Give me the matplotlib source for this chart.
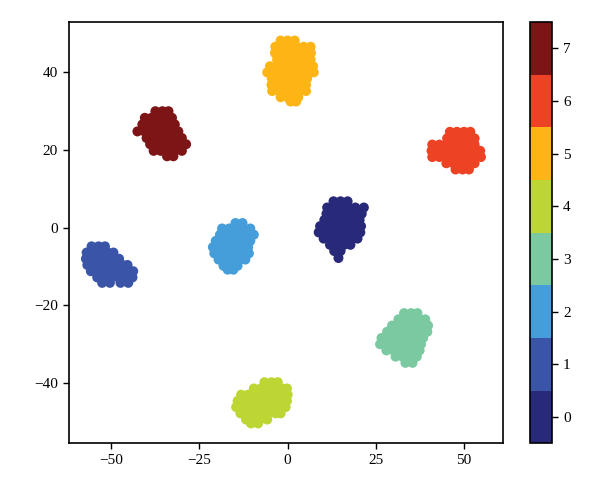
import numpy as np
import matplotlib
matplotlib.use("Agg")
import matplotlib.pyplot as plt
from matplotlib.colors import ListedColormap, BoundaryNorm

plt.rcParams['font.family'] = ['Liberation Serif', 'DejaVu Serif']

# t-SNE embedding, one cluster per class label
# each row: (y, [x values on that row])
cluster0 = [(6.8, [13.0, 15.0, 17.0]),
            (5.2, [11.2, 13.2, 15.2, 17.2, 19.2, 21.6]),
            (3.6, [11.0, 13.0, 15.0, 17.0, 19.0, 21.0]),
            (2.0, [10.4, 12.4, 14.4, 16.4, 18.4, 20.4]),
            (0.4, [9.2, 11.2, 13.2, 15.2, 17.2, 19.2, 20.8]),
            (-1.2, [8.8, 10.8, 12.8, 14.8, 16.8, 18.8, 20.6]),
            (-2.8, [10.2, 12.2, 14.2, 16.2, 18.2, 19.8]),
            (-4.4, [12.0, 14.0, 16.0, 17.8]),
            (-6.0, [13.2, 15.0]),
            (-7.8, [14.4])]
cluster1 = [(-4.8, [-55.6, -53.6, -51.8]),
            (-6.4, [-57.0, -55.0, -53.0, -51.0, -49.4]),
            (-8.0, [-57.2, -55.2, -53.2, -51.2, -49.2, -47.8]),
            (-9.6, [-56.8, -54.8, -52.8, -50.8, -48.8, -46.8, -45.4]),
            (-11.2, [-55.8, -53.8, -51.8, -49.8, -47.8, -45.8, -43.8]),
            (-12.8, [-54.0, -52.0, -50.0, -48.0, -46.0, -44.0]),
            (-14.2, [-52.6, -50.4, -47.4, -45.2])]
cluster2 = [(1.2, [-14.8, -12.8]),
            (-0.2, [-18.6, -16.6, -14.6, -12.6, -10.6]),
            (-1.8, [-19.2, -17.2, -15.2, -13.2, -11.2, -9.6]),
            (-3.4, [-20.4, -18.4, -16.4, -14.4, -12.4, -10.6]),
            (-5.0, [-21.2, -19.2, -17.2, -15.2, -13.2, -11.2]),
            (-6.6, [-20.8, -18.8, -16.8, -14.8, -12.8, -11.0]),
            (-8.2, [-19.6, -17.6, -15.6, -13.6, -12.0]),
            (-9.8, [-18.2, -16.2, -14.2]),
            (-10.8, [-17.0, -15.4])]
cluster3 = [(-22.0, [33.0, 35.0, 36.8]),
            (-23.6, [31.4, 33.4, 35.4, 37.4, 39.0]),
            (-25.2, [29.6, 31.6, 33.6, 35.6, 37.6, 39.8]),
            (-26.8, [28.2, 30.2, 32.2, 34.2, 36.2, 38.2, 39.6]),
            (-28.4, [26.6, 28.6, 30.6, 32.6, 34.6, 36.6, 38.4]),
            (-30.0, [26.2, 28.2, 30.2, 32.2, 34.2, 36.2, 37.8]),
            (-31.6, [28.0, 30.0, 32.0, 34.0, 36.0, 37.4]),
            (-33.2, [30.6, 32.6, 34.6, 36.6]),
            (-34.8, [33.4, 35.4])]
cluster4 = [(-39.8, [-6.6, -4.6, -2.8]),
            (-41.4, [-9.6, -7.6, -5.6, -3.6, -1.6, -0.2]),
            (-43.0, [-13.2, -11.2, -9.2, -7.2, -5.2, -3.2, -1.2, 0.0]),
            (-44.6, [-14.2, -12.2, -10.2, -8.2, -6.2, -4.2, -2.2, -0.2]),
            (-46.2, [-14.6, -12.6, -10.6, -8.6, -6.6, -4.6, -2.6, -0.6]),
            (-47.8, [-13.4, -11.4, -9.4, -7.4, -5.4, -3.4, -2.0]),
            (-49.4, [-11.8, -9.8, -7.8, -5.8]),
            (-50.4, [-10.4, -8.4])]
cluster5 = [(48.2, [-2.0, 0.0, 2.0]),
            (46.6, [-3.5, -1.5, 0.5, 2.5, 4.5, 6.5]),
            (45.0, [-3.6, -1.6, 0.4, 2.4, 4.4, 6.6]),
            (43.3, [-3.0, -1.0, 1.0, 3.0, 5.0, 6.5]),
            (41.6, [-5.0, -3.0, -1.0, 1.0, 3.0, 5.0, 7.2]),
            (40.0, [-5.8, -3.8, -1.8, 0.2, 2.2, 4.2, 6.2, 7.4]),
            (38.4, [-4.5, -2.5, -0.5, 1.5, 3.5, 5.5]),
            (36.8, [-4.6, -2.6, -0.6, 1.4, 3.4, 5.2]),
            (35.2, [-4.4, -2.4, -0.4, 1.6, 3.6, 5.2]),
            (33.6, [-2.0, 0.0, 2.0, 3.0]),
            (32.5, [0.8, 2.4])]
cluster6 = [(24.7, [46.0, 48.0, 50.0, 51.8]),
            (23.0, [45.2, 47.2, 49.2, 51.2, 53.0]),
            (21.4, [41.0, 43.0, 45.0, 47.0, 49.0, 51.0, 53.0]),
            (19.8, [40.8, 42.8, 44.8, 46.8, 48.8, 50.8, 52.8, 54.6]),
            (18.2, [41.0, 43.0, 45.0, 47.0, 49.0, 51.0, 53.0, 54.8]),
            (16.6, [45.0, 47.0, 49.0, 51.0, 53.0]),
            (15.0, [47.6, 49.6, 51.4])]
cluster7 = [(30.0, [-37.5, -35.5, -33.8]),
            (28.3, [-40.5, -38.6, -36.7, -34.8, -32.8]),
            (26.6, [-41.2, -39.3, -37.4, -35.5, -33.6, -32.0]),
            (24.8, [-42.6, -40.6, -38.6, -36.6, -34.6, -32.6, -31.0]),
            (23.1, [-40.0, -38.0, -36.0, -34.0, -32.0, -30.0]),
            (21.5, [-39.0, -37.0, -35.0, -33.0, -31.0, -28.8]),
            (19.8, [-38.0, -36.0, -34.0, -32.0, -30.0]),
            (18.4, [-34.2, -32.4])]

clusters = [cluster0, cluster1, cluster2, cluster3, cluster4, cluster5, cluster6, cluster7]
class_colors = ['#29297a', '#3a55a8', '#459dd9', '#7ac9a1', '#bdd633',
                '#fdb515', '#ee4224', '#7d1416']

xs, ys, labels = [], [], []
for lab, rows in enumerate(clusters):
    for y, row in rows:
        for x in row:
            xs.append(x)
            ys.append(y)
            labels.append(lab)
xs = np.array(xs)
ys = np.array(ys)
labels = np.array(labels)

cmap = ListedColormap(class_colors)
norm = BoundaryNorm(np.arange(-0.5, 8.5, 1), cmap.N)

fig = plt.figure(figsize=(6, 4.98), dpi=100)
ax = fig.add_axes([0.115, 0.110, 0.723, 0.846])
cax = fig.add_axes([0.883, 0.110, 0.037, 0.846])

sc = ax.scatter(xs, ys, c=labels, cmap=cmap, norm=norm, s=52, linewidths=0)
ax.set_xlim(-62, 61)
ax.set_ylim(-55.5, 53)
ax.set_xticks([-50, -25, 0, 25, 50])
ax.set_yticks([-40, -20, 0, 20, 40])
ax.tick_params(labelsize=11, length=4.5, width=1)
for sp in ax.spines.values():
    sp.set_linewidth(1.2)

cb = fig.colorbar(sc, cax=cax, ticks=range(8))
cb.minorticks_off()
cb.ax.tick_params(labelsize=11, length=4.5, width=1)
cb.outline.set_linewidth(1.2)

fig.savefig('out.png', dpi=100)
